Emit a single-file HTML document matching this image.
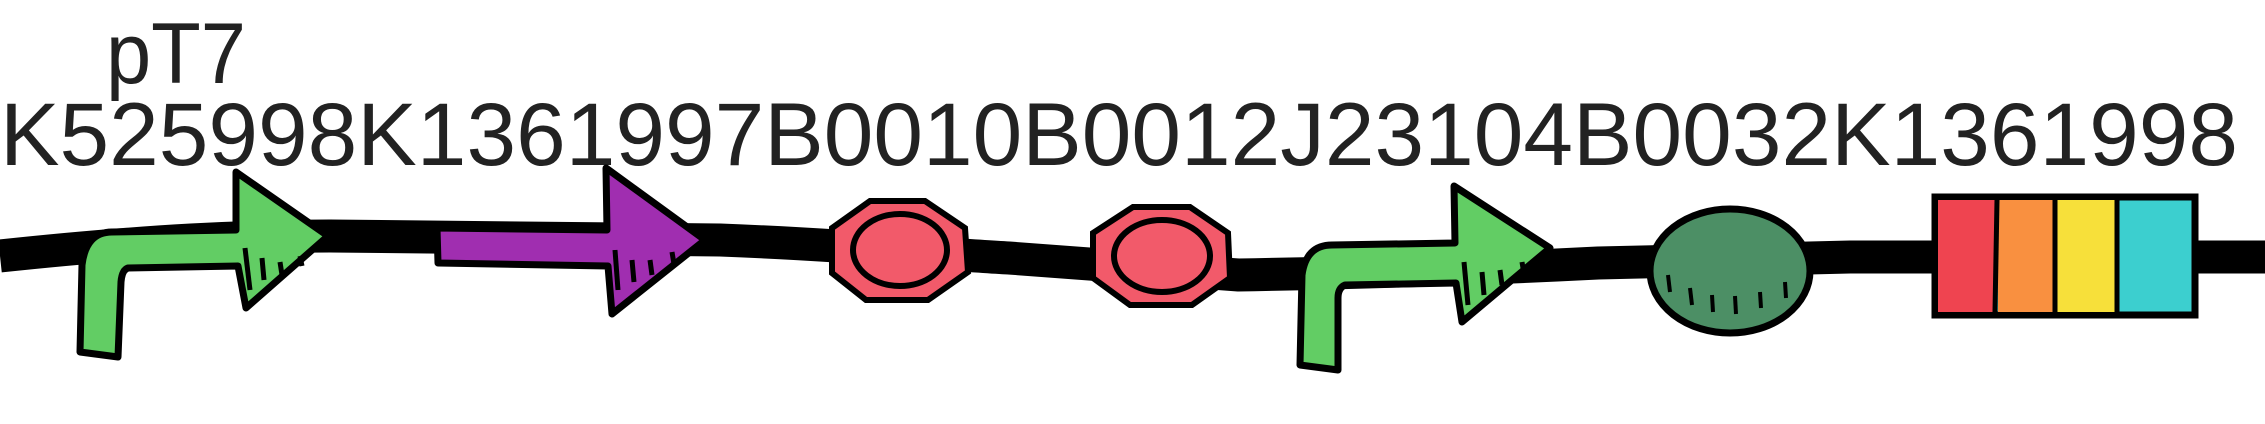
<!DOCTYPE html>
<html><head><style>
html,body{margin:0;padding:0;background:#fff;width:2265px;height:424px;overflow:hidden}
</style></head><body>
<svg width="2265" height="424" viewBox="0 0 2265 424" xmlns="http://www.w3.org/2000/svg">
<text x="106" y="83" font-family="Liberation Sans, Arial, sans-serif" font-size="86" fill="#222" textLength="140" lengthAdjust="spacingAndGlyphs">pT7</text>
<text x="0" y="165" font-family="Liberation Sans, Arial, sans-serif" font-size="89" fill="#222" textLength="2238" lengthAdjust="spacingAndGlyphs">K525998K1361997B0010B0012J23104B0032K1361998</text>
<!-- backbone -->
<path d="M0,256 C150,240 250,236 330,236 L720,240 C850,245 950,255 1009,258 L1238,275 C1400,272 1500,268 1598,263 L1850,257 L2265,257" fill="none" stroke="#000" stroke-width="33"/>
<!-- promoter 1 -->
<path d="M80,352 L82,265 Q86,232 112,232 L236,230 L236,172 L328,236 L246,308 L238,266 L128,268 Q122,270 121,282 L118,357 Z" fill="#62cd64" stroke="#000" stroke-width="7" stroke-linejoin="round"/>
<g stroke="#000" stroke-width="5"><line x1="245" y1="248" x2="250" y2="290"/><line x1="262" y1="258" x2="264" y2="280"/><line x1="280" y1="262" x2="282" y2="275"/><line x1="300" y1="256" x2="302" y2="266"/></g>
<!-- CDS purple -->
<path d="M437,228 L607,230 L606,168 L705,240 L612,314 L608,266 L438,263 Z" fill="#a02eb0" stroke="#000" stroke-width="7" stroke-linejoin="round"/>
<g stroke="#000" stroke-width="5"><line x1="615" y1="250" x2="618" y2="290"/><line x1="632" y1="260" x2="634" y2="282"/><line x1="650" y1="260" x2="652" y2="275"/><line x1="672" y1="252" x2="674" y2="264"/></g>
<!-- RBS 1 -->
<g stroke="#000" stroke-width="6" fill="#f25a6a">
<polygon points="870,201 925,201 965,228 968,272 928,300 866,300 832,273 832,228"/>
<ellipse cx="900" cy="250" rx="47" ry="36"/>
</g>
<!-- RBS 2 -->
<g stroke="#000" stroke-width="6" fill="#f25a6a">
<polygon points="1133,207 1190,207 1228,233 1230,278 1192,305 1130,305 1093,278 1093,233"/>
<ellipse cx="1162" cy="256" rx="48" ry="36"/>
</g>
<!-- promoter 2 -->
<path d="M1300,365 L1302,275 Q1306,245 1332,245 L1455,243 L1454,186 L1550,248 L1462,322 L1456,283 L1345,285 Q1338,288 1338,298 L1338,370 Z" fill="#62cd64" stroke="#000" stroke-width="7" stroke-linejoin="round"/>
<g stroke="#000" stroke-width="5"><line x1="1464" y1="262" x2="1468" y2="305"/><line x1="1482" y1="272" x2="1484" y2="295"/><line x1="1500" y1="270" x2="1502" y2="285"/><line x1="1522" y1="262" x2="1524" y2="274"/></g>
<!-- terminator circle -->
<ellipse cx="1730" cy="271" rx="80" ry="62" fill="#4c8f65" stroke="#000" stroke-width="7"/>
<g stroke="#000" stroke-width="4"><line x1="1668" y1="275" x2="1670" y2="292"/><line x1="1690" y1="288" x2="1692" y2="305"/><line x1="1712" y1="295" x2="1713" y2="312"/><line x1="1735" y1="296" x2="1736" y2="314"/><line x1="1760" y1="292" x2="1761" y2="308"/><line x1="1785" y1="282" x2="1786" y2="298"/></g>
<!-- colored box -->
<rect x="1935" y="197" width="260" height="118" fill="#3ccfcf" stroke="#000" stroke-width="7"/>
<rect x="1938" y="200" width="58" height="112" fill="#ef4450"/>
<rect x="1998" y="200" width="56" height="112" fill="#f99040"/>
<rect x="2056" y="200" width="60" height="112" fill="#f7e03a"/>
<g stroke="#000" stroke-width="5">
<line x1="1997" y1="200" x2="1995" y2="312"/>
<line x1="2055" y1="200" x2="2055" y2="312"/>
<line x1="2117" y1="200" x2="2117" y2="312"/>
</g>
</svg>
</body></html>
